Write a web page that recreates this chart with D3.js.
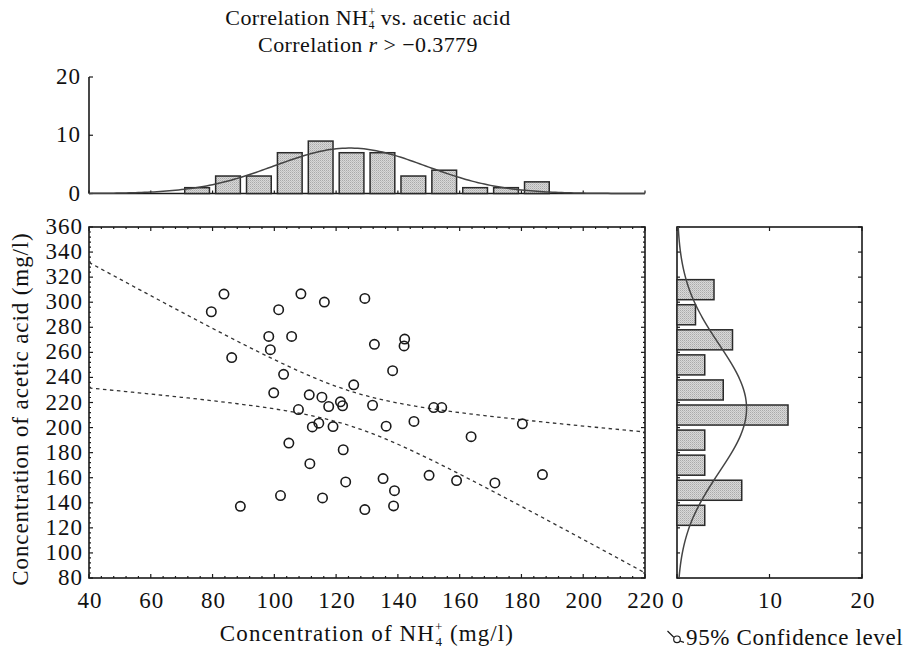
<!DOCTYPE html>
<html>
<head>
<meta charset="utf-8">
<script src="https://cdn.jsdelivr.net/npm/d3@7"></script>
<style>
  body { margin: 0; background: #fff; }
  text { font-family: "Liberation Serif", "DejaVu Serif", serif; fill: #111; }
</style>
</head>
<body>
<svg id="chart" width="906" height="650"></svg>
<script>
// NH4+ (x) and acetic acid (y) readings, mg/l
const nh4 = [83.7, 79.6, 108.6, 101.4, 116.2, 129.3, 98.2, 105.6, 98.7, 132.4, 86.2, 103, 125.7, 99.8, 111.3, 115.4,
  121.4, 122.1, 117.6, 131.8, 107.8, 142.2, 142, 138.3, 151.6, 154.2, 112.3, 114.4, 119, 104.7, 122.3, 111.5,
  123.1, 102, 115.6, 89, 129.3, 136.2, 145.2, 163.7, 180.3, 135.2, 150.1, 159, 171.4, 186.8, 138.9, 138.6];
const acetic = [306.5, 292.4, 306.7, 294, 300.1, 303, 272.7, 272.7, 262.1, 266.4, 255.8, 242.5, 234.1, 227.7, 226.1, 224.2,
  220.5, 217.4, 216.8, 217.8, 214.4, 270.6, 265.1, 245.4, 216, 216, 200.5, 203.5, 200.8, 187.6, 182.3, 171.2,
  156.6, 145.8, 143.9, 137.2, 134.6, 201.1, 204.9, 192.7, 203, 159.3, 161.9, 157.7, 155.8, 162.5, 149.7, 137.5];

// histogram of NH4+ (bins of 10 from 70)
const nh4BinCenters = [75, 85, 95, 105, 115, 125, 135, 145, 155, 165, 175, 185];
const nh4Counts = [1, 3, 3, 7, 9, 7, 7, 3, 4, 1, 1, 2];
// histogram of acetic acid (bins of 20 from 120)
const aceticBinCenters = [310, 290, 270, 250, 230, 210, 190, 170, 150, 130];
const aceticCounts = [4, 2, 6, 3, 5, 12, 3, 3, 7, 3];

const xTicks = [40, 60, 80, 100, 120, 140, 160, 180, 200, 220];
const yTicks = [80, 100, 120, 140, 160, 180, 200, 220, 240, 260, 280, 300, 320, 340, 360];
const countTicks = [0, 10, 20];
const rValue = "\u22120.3779";
const tCrit = 2.013; // t(0.975, 46)

const svg = d3.select("#chart");
svg.append("rect").attr("width", 906).attr("height", 650).attr("fill", "#fff");

const defs = svg.append("defs");
const pat = defs.append("pattern").attr("id", "stip")
  .attr("width", 2).attr("height", 2).attr("patternUnits", "userSpaceOnUse");
pat.append("rect").attr("width", 2).attr("height", 2).attr("fill", "#d8d8d8");
pat.append("rect").attr("width", 1).attr("height", 1).attr("fill", "#aaaaaa");
pat.append("rect").attr("x", 1).attr("y", 1).attr("width", 1).attr("height", 1).attr("fill", "#c0c0c0");

const x = d3.scaleLinear().domain([40, 220]).range([89, 645]);
const y = d3.scaleLinear().domain([80, 360]).range([578, 227]);
const yTop = d3.scaleLinear().domain([0, 20]).range([193.5, 77]);
const xRight = d3.scaleLinear().domain([0, 20]).range([677, 862]);

const ink = "#1a1a1a";
const fs = 23;      // tick labels
const ls = 1;       // letter spacing for tick labels

// "NH" followed by a stacked + over 4
function nh4Label(sel, size, small, before, after) {
  sel.append("tspan").text(before + "NH");
  sel.append("tspan").attr("font-size", small).attr("dy", -(size * 0.42)).text("+");
  sel.append("tspan").attr("font-size", small).attr("dx", -small * 0.6).attr("dy", size * 0.62).text("4");
  sel.append("tspan").attr("dy", -(size * 0.2)).text(after);
}

// ---- title
const title = svg.append("text").attr("x", 368).attr("y", 25).attr("text-anchor", "middle")
  .attr("font-size", 22).attr("letter-spacing", 0.4);
nh4Label(title, 22, 12, "Correlation ", " vs. acetic acid");
const t2 = svg.append("text").attr("x", 368).attr("y", 52).attr("text-anchor", "middle")
  .attr("font-size", 22).attr("letter-spacing", 0.4);
t2.append("tspan").text("Correlation ");
t2.append("tspan").attr("font-style", "italic").text("r");
t2.append("tspan").text(" > " + rValue);

// ---- main scatter frame + ticks
const main = svg.append("g");
main.append("rect").attr("x", x(40)).attr("y", y(360))
  .attr("width", x(220) - x(40)).attr("height", y(80) - y(360))
  .attr("fill", "none").attr("stroke", ink).attr("stroke-width", 1.6);

const xMinor = d3.range(40, 220.01, 4);
const yMinor = d3.range(80, 360.01, 4);
const isMajor = v => Math.abs(v % 20) < 1e-6;
main.selectAll(".xtb").data(xMinor).join("line")
  .attr("x1", d => x(d)).attr("x2", d => x(d))
  .attr("y1", y(80)).attr("y2", d => y(80) - (isMajor(d) ? 4 : 2))
  .attr("stroke", ink).attr("stroke-width", 1.2);
main.selectAll(".xtt").data(xMinor).join("line")
  .attr("x1", d => x(d)).attr("x2", d => x(d))
  .attr("y1", y(360)).attr("y2", d => y(360) + (isMajor(d) ? 4 : 2))
  .attr("stroke", ink).attr("stroke-width", 1.2);
main.selectAll(".ytl").data(yMinor).join("line")
  .attr("y1", d => y(d)).attr("y2", d => y(d))
  .attr("x1", x(40)).attr("x2", d => x(40) + (isMajor(d) ? 4 : 2))
  .attr("stroke", ink).attr("stroke-width", 1.2);
main.selectAll(".ytr").data(yMinor).join("line")
  .attr("y1", d => y(d)).attr("y2", d => y(d))
  .attr("x1", x(220)).attr("x2", d => x(220) - (isMajor(d) ? 4 : 2))
  .attr("stroke", ink).attr("stroke-width", 1.2);

svg.selectAll(".xl").data(xTicks).join("text")
  .attr("x", d => x(d) + ls).attr("y", 608).attr("text-anchor", "middle")
  .attr("font-size", fs).attr("letter-spacing", ls).text(d => d);
svg.selectAll(".yl").data(yTicks).join("text")
  .attr("x", 82 + ls).attr("y", d => y(d) + 7).attr("text-anchor", "end")
  .attr("font-size", fs).attr("letter-spacing", ls).text(d => d);

// ---- confidence band of the regression line
const n = nh4.length;
const mx = d3.mean(nh4), my = d3.mean(acetic);
const sxx = d3.sum(nh4, v => (v - mx) ** 2);
const sxy = d3.sum(nh4, (v, i) => (v - mx) * (acetic[i] - my));
const slope = sxy / sxx, icpt = my - slope * mx;
const sse = d3.sum(nh4, (v, i) => (acetic[i] - icpt - slope * v) ** 2);
const se = Math.sqrt(sse / (n - 2));
const bandX = d3.range(40, 220.01, 2);
const half = v => tCrit * se * Math.sqrt(1 / n + (v - mx) ** 2 / sxx);
[1, -1].forEach(sgn => {
  main.append("path")
    .datum(bandX)
    .attr("fill", "none").attr("stroke", "#333").attr("stroke-width", 1.3)
    .attr("stroke-dasharray", "3.5,3.5")
    .attr("d", d3.line().x(v => x(v)).y(v => y(icpt + slope * v + sgn * half(v))));
});

main.selectAll(".pt").data(nh4).join("circle")
  .attr("cx", d => x(d)).attr("cy", (d, i) => y(acetic[i])).attr("r", 4.7)
  .attr("fill", "none").attr("stroke", ink).attr("stroke-width", 1.6);

// ---- top histogram (NH4+)
const topG = svg.append("g");
topG.append("line").attr("x1", x(40)).attr("x2", x(40)).attr("y1", yTop(20)).attr("y2", yTop(0))
  .attr("stroke", ink).attr("stroke-width", 1.6);
topG.append("line").attr("x1", x(40)).attr("x2", x(220)).attr("y1", yTop(0)).attr("y2", yTop(0))
  .attr("stroke", ink).attr("stroke-width", 1.6);
topG.selectAll(".tt").data(countTicks).join("line")
  .attr("x1", x(40)).attr("x2", x(40) + 4).attr("y1", d => yTop(d)).attr("y2", d => yTop(d))
  .attr("stroke", ink).attr("stroke-width", 1.2);
topG.selectAll(".tb").data(xTicks).join("line")
  .attr("x1", d => x(d)).attr("x2", d => x(d)).attr("y1", yTop(0)).attr("y2", yTop(0) - 3)
  .attr("stroke", ink).attr("stroke-width", 1.2);
topG.selectAll(".tl").data(countTicks).join("text")
  .attr("x", 80 + ls).attr("y", d => yTop(d) + 7).attr("text-anchor", "end")
  .attr("font-size", fs).attr("letter-spacing", ls).text(d => d);
topG.selectAll(".bar").data(nh4BinCenters).join("rect")
  .attr("x", d => x(d - 4)).attr("width", x(8) - x(0))
  .attr("y", (d, i) => yTop(nh4Counts[i])).attr("height", (d, i) => yTop(0) - yTop(nh4Counts[i]))
  .attr("fill", "url(#stip)").attr("stroke", "#2a2a2a").attr("stroke-width", 1.5);
const sdx = d3.deviation(nh4);
const pdf = (v, m, s) => Math.exp(-0.5 * ((v - m) / s) ** 2) / (s * Math.sqrt(2 * Math.PI));
topG.append("path").datum(d3.range(40, 220.01, 1))
  .attr("fill", "none").attr("stroke", "#444").attr("stroke-width", 1.5)
  .attr("d", d3.line().x(v => x(v)).y(v => yTop(n * 10 * pdf(v, mx, sdx))));

// ---- right histogram (acetic acid)
const rightG = svg.append("g");
rightG.append("rect").attr("x", xRight(0)).attr("y", y(360))
  .attr("width", xRight(20) - xRight(0)).attr("height", y(80) - y(360))
  .attr("fill", "none").attr("stroke", ink).attr("stroke-width", 1.6);
rightG.selectAll(".rr").data(yTicks).join("line")
  .attr("x1", xRight(20)).attr("x2", xRight(20) - 4).attr("y1", d => y(d)).attr("y2", d => y(d))
  .attr("stroke", ink).attr("stroke-width", 1.2);
rightG.selectAll(".rl").data(yTicks).join("line")
  .attr("x1", xRight(0)).attr("x2", xRight(0) + 3).attr("y1", d => y(d)).attr("y2", d => y(d))
  .attr("stroke", ink).attr("stroke-width", 1.2);
rightG.selectAll(".rt").data(countTicks).join("line")
  .attr("x1", d => xRight(d)).attr("x2", d => xRight(d)).attr("y1", y(360)).attr("y2", y(360) + 4)
  .attr("stroke", ink).attr("stroke-width", 1.2);
rightG.selectAll(".rb").data(countTicks).join("line")
  .attr("x1", d => xRight(d)).attr("x2", d => xRight(d)).attr("y1", y(80)).attr("y2", y(80) - 4)
  .attr("stroke", ink).attr("stroke-width", 1.2);
rightG.selectAll(".rlab").data(countTicks).join("text")
  .attr("x", d => xRight(d) + ls).attr("y", 608).attr("text-anchor", "middle")
  .attr("font-size", fs).attr("letter-spacing", ls).text(d => d);
rightG.selectAll(".bar").data(aceticBinCenters).join("rect")
  .attr("x", xRight(0))
  .attr("y", d => y(d + 8)).attr("height", y(0) - y(16))
  .attr("width", (d, i) => xRight(aceticCounts[i]) - xRight(0))
  .attr("fill", "url(#stip)").attr("stroke", "#2a2a2a").attr("stroke-width", 1.5);
const sdy = d3.deviation(acetic);
rightG.append("path").datum(d3.range(80, 360.01, 1))
  .attr("fill", "none").attr("stroke", "#444").attr("stroke-width", 1.5)
  .attr("d", d3.line().y(v => y(v)).x(v => xRight(n * 20 * pdf(v, my, sdy))));

// ---- axis titles
const xt = svg.append("text").attr("x", 367).attr("y", 641).attr("text-anchor", "middle")
  .attr("font-size", 23).attr("letter-spacing", 1.1);
nh4Label(xt, 23, 13, "Concentration of ", " (mg/l)");

svg.append("text").attr("transform", "translate(28,409) rotate(-90)")
  .attr("text-anchor", "middle").attr("font-size", 23).attr("letter-spacing", 0.9)
  .text("Concentration of acetic acid (mg/l)");

// ---- legend
const lg = svg.append("g");
lg.append("path").attr("d", "M667.5,631 L673.8,637.2 M680.2,641.2 L684,642.3")
  .attr("fill", "none").attr("stroke", ink).attr("stroke-width", 1.2);
lg.append("circle").attr("cx", 677).attr("cy", 639.3).attr("r", 3.3)
  .attr("fill", "none").attr("stroke", ink).attr("stroke-width", 1.2);
lg.append("text").attr("x", 686).attr("y", 645).attr("font-size", 23).attr("letter-spacing", 0.65)
  .text("95% Confidence level");
</script>
</body>
</html>
